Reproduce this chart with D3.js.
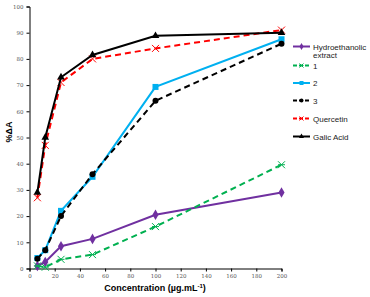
<!DOCTYPE html>
<html>
<head>
<meta charset="utf-8">
<script src="https://cdn.jsdelivr.net/npm/d3@7"></script>
<style>
  body { margin: 0; background: #fff; }
  svg { display: block; font-family: Arial, "Liberation Sans", sans-serif; }
</style>
</head>
<body>
<div id="chart"></div>
<script>
// Concentrations (ug/mL)
const concentrations = [6.25, 12.5, 25, 50, 100, 200];

// %ΔA for each sample
const hydroethanolic = [1, 2.5, 8.5, 11.3, 20.5, 29];
const sample1 = [1, 0.5, 3.5, 5.3, 16, 39.6];
const sample2 = [4, 7, 22, 35, 69.3, 87.5];
const sample3 = [3.7, 7, 20, 36, 64, 85.8];
const quercetin = [27, 47, 71, 80, 84, 91];
const gallicAcid = [29, 50, 73, 81.5, 88.8, 90];

const seriesNames = ['Hydroethanolic extract', '1', '2', '3', 'Quercetin', 'Galic Acid'];
const xTicks = [0, 20, 40, 60, 80, 100, 120, 140, 160, 180, 200];
const yTicks = [0, 10, 20, 30, 40, 50, 60, 70, 80, 90, 100];

const styles = [
  { color: '#7030a0', dash: null, marker: 'diamond' },
  { color: '#00b050', dash: '6,4', marker: 'star' },
  { color: '#00b0f0', dash: null, marker: 'square' },
  { color: '#000000', dash: '6,4', marker: 'circle' },
  { color: '#ff0000', dash: '6,4', marker: 'cross' },
  { color: '#000000', dash: null, marker: 'triangle' }
];

const seriesValues = [hydroethanolic, sample1, sample2, sample3, quercetin, gallicAcid];
const series = seriesNames.map((name, i) => ({
  name: name,
  style: styles[i],
  points: concentrations.map((c, j) => ({ x: c, y: seriesValues[i][j] }))
}));

const W = 370, H = 297;
const svg = d3.select('#chart').append('svg')
  .attr('width', W).attr('height', H);

const x = d3.scaleLinear().domain([0, 200]).range([29.5, 281.5]);
const y = d3.scaleLinear().domain([0, 100]).range([268.5, 6.5]);

// Axes
const yAxis = svg.append('g')
  .attr('transform', `translate(${x(0)},0)`)
  .call(d3.axisLeft(y).tickValues(yTicks).tickSize(3).tickPadding(3));
const xAxis = svg.append('g')
  .attr('transform', `translate(0,${y(0)})`)
  .call(d3.axisBottom(x).tickValues(xTicks).tickSize(3).tickPadding(3));

[xAxis, yAxis].forEach(a => {
  a.select('.domain').attr('stroke', '#000').attr('stroke-width', 1);
  a.selectAll('.tick line').attr('stroke', '#000');
  a.selectAll('.tick text')
    .style('font-size', '5.5px')
    .style('font-family', '"DejaVu Serif", serif')
    .attr('fill', '#555');
});

// Axis titles
svg.append('text')
  .attr('x', 155).attr('y', 291)
  .attr('text-anchor', 'middle')
  .style('font-size', '9px')
  .style('font-weight', 'bold')
  .html('Concentration (µg.mL<tspan dy="-3" style="font-size:6px">-1</tspan><tspan dy="3">)</tspan>');

svg.append('text')
  .attr('transform', 'translate(12,132) rotate(-90)')
  .attr('text-anchor', 'middle')
  .style('font-size', '9px')
  .style('font-weight', 'bold')
  .text('%ΔA');

// Marker drawing
function drawMarker(g, type, color, size) {
  const s = size;
  if (type === 'diamond') {
    g.append('path').attr('d', d3.symbol(d3.symbolDiamond, s * s * 0.9)()).attr('fill', color);
  } else if (type === 'square') {
    g.append('rect').attr('x', -s / 2).attr('y', -s / 2).attr('width', s).attr('height', s).attr('fill', color);
  } else if (type === 'circle') {
    g.append('circle').attr('r', s / 2).attr('fill', color);
  } else if (type === 'triangle') {
    g.append('path').attr('d', d3.symbol(d3.symbolTriangle, s * s * 0.7)()).attr('fill', color);
  } else if (type === 'cross') {
    const h = s / 2;
    g.append('path').attr('d', `M${-h},${-h}L${h},${h}M${-h},${h}L${h},${-h}`)
      .attr('stroke', color).attr('stroke-width', 1).attr('fill', 'none');
  } else if (type === 'star') {
    const h = s / 2;
    g.append('path').attr('d', `M${-h},${-h}L${h},${h}M${-h},${h}L${h},${-h}M${-h},0L${h},0`)
      .attr('stroke', color).attr('stroke-width', 1).attr('fill', 'none');
  }
}

const line = d3.line().x(d => x(d.x)).y(d => y(d.y));

series.forEach(s => {
  svg.append('path')
    .datum(s.points)
    .attr('fill', 'none')
    .attr('stroke', s.style.color)
    .attr('stroke-width', 2)
    .attr('stroke-dasharray', s.style.dash)
    .attr('d', line);

  s.points.forEach(p => {
    const g = svg.append('g').attr('transform', `translate(${x(p.x)},${y(p.y)})`);
    const size = s.style.marker === 'cross' || s.style.marker === 'star' ? 7 : 6;
    drawMarker(g, s.style.marker, s.style.color, size);
  });
});

// Legend
const legend = svg.append('g').attr('transform', 'translate(293,0)');
const legendY = [46.5, 65.5, 83, 100.5, 118.5, 136.5];
series.forEach((s, i) => {
  const ly = legendY[i];
  legend.append('line')
    .attr('x1', 0).attr('x2', 17).attr('y1', ly).attr('y2', ly)
    .attr('stroke', s.style.color)
    .attr('stroke-width', 2)
    .attr('stroke-dasharray', s.style.dash ? '4,2' : null);
  const g = legend.append('g').attr('transform', `translate(8.5,${ly})`);
  drawMarker(g, s.style.marker, s.style.color, 4);

  const t = legend.append('text')
    .attr('x', 20).attr('y', ly + 3)
    .style('font-size', '8px')
    .attr('fill', '#222');
  if (s.name === 'Hydroethanolic extract') {
    t.append('tspan').text('Hydroethanolic');
    t.append('tspan').attr('x', 20).attr('dy', 8.5).text('extract');
  } else {
    t.text(s.name);
  }
});
</script>
</body>
</html>
